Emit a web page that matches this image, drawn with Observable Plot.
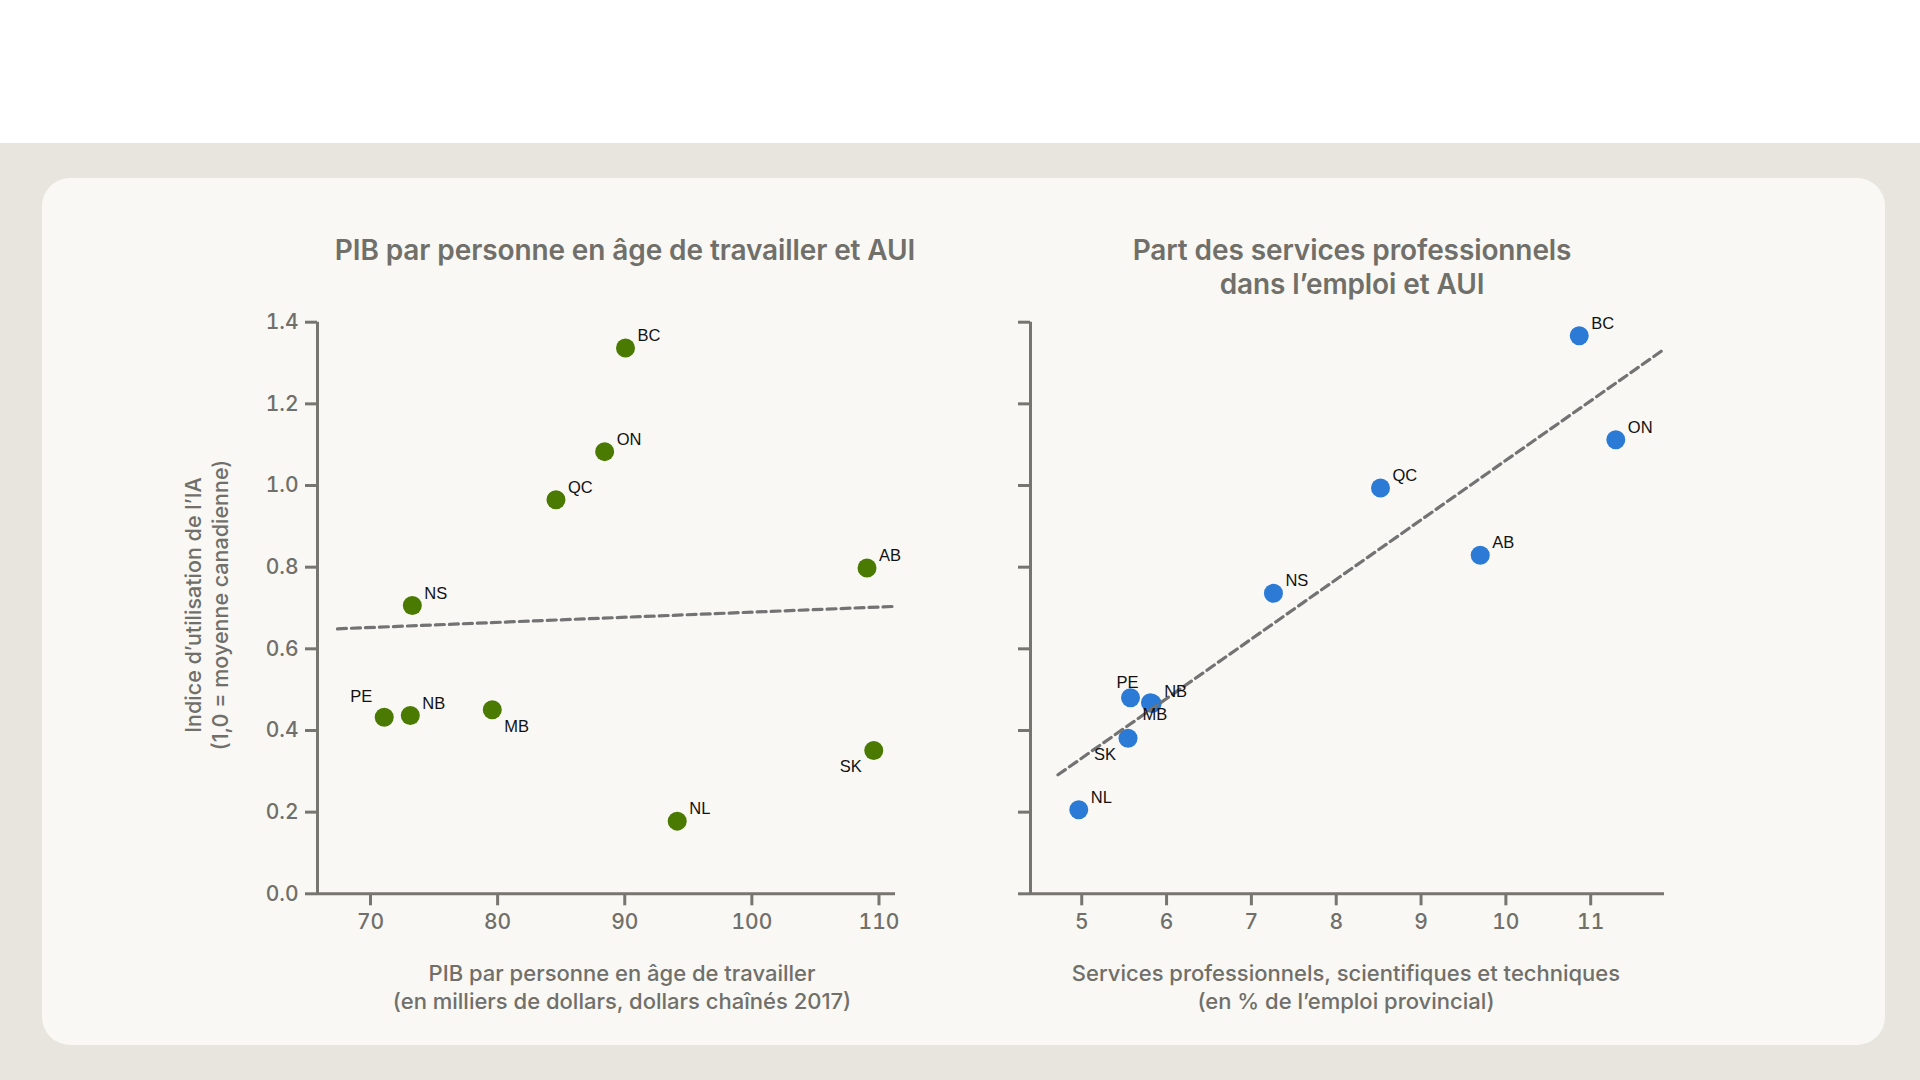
<!DOCTYPE html>
<html lang="fr">
<head>
<meta charset="utf-8">
<script src="https://cdn.jsdelivr.net/npm/d3@7"></script>
<script src="https://cdn.jsdelivr.net/npm/@observablehq/plot@0.6"></script>
<style>
  html, body { margin: 0; padding: 0; }
  body { width: 1920px; height: 1080px; position: relative; overflow: hidden; background: #ffffff; font-family: Inter, "Noto Sans", sans-serif; }
  #band { position: absolute; left: 0; top: 143px; width: 1920px; height: 937px; background: #e8e5de; }
  #card { position: absolute; left: 42px; top: 178px; width: 1843px; height: 867px; background: #f9f8f4; border-radius: 28px; }
  .txt { position: absolute; color: #706f6a; text-align: center; white-space: nowrap; transform: translateX(-50%); }
  .title { font-size: 28px; font-weight: 600; line-height: 34px; top: 233px; letter-spacing: -0.1px; }
  .xlabel { font-size: 22px; font-weight: 500; line-height: 28.7px; top: 958.6px; letter-spacing: 0; }
  .ylabel { position: absolute; color: #706f6a; text-align: center; white-space: nowrap; font-size: 21.5px; font-weight: 500; line-height: 27px; left: 207px; top: 605px; transform: translate(-50%, -50%) rotate(-90deg); }
  .plot { position: absolute; top: 0; }
</style>
</head>
<body>
<div id="band"></div>
<div id="card"></div>
<div class="txt title" style="left:625px">PIB par personne en âge de travailler et AUI</div>
<div class="txt title" style="left:1352px">Part des services professionnels<br>dans l’emploi et AUI</div>
<div class="ylabel">Indice d’utilisation de l’IA<br>(1,0 = moyenne canadienne)</div>
<div class="txt xlabel" style="left:622px">PIB par personne en âge de travailler<br>(en milliers de dollars, dollars chaînés 2017)</div>
<div class="txt xlabel" style="left:1346px">Services professionnels, scientifiques et techniques<br>(en % de l’emploi provincial)</div>
<div id="left" class="plot" style="left:0px"></div>
<div id="right" class="plot" style="left:960px"></div>
<script>
// ---- data ----
const provinces = ["BC", "ON", "QC", "AB", "NS", "PE", "NB", "MB", "SK", "NL"];
const gdpPerWorker = [90.06, 88.42, 84.59, 109.06, 73.29, 71.08, 73.13, 79.58, 109.59, 94.13];
const aiIndexGdp = [1.337, 1.083, 0.965, 0.798, 0.706, 0.4325, 0.4367, 0.4506, 0.351, 0.178];
const proServicesShare = [10.865, 11.296, 8.522, 9.698, 7.26, 5.81, 5.83, 5.575, 5.546, 4.965];
const aiIndexPro = [1.367, 1.112, 0.994, 0.829, 0.736, 0.468, 0.466, 0.48, 0.381, 0.206];
const labelSide = ["ne", "ne", "ne", "ne", "ne", "nw", "ne", "se", "sw", "ne"];

const gdpTicks = [70, 80, 90, 100, 110];
const proTicks = [5, 6, 7, 8, 9, 10, 11];
const aiTicks = [0, 0.2, 0.4, 0.6, 0.8, 1.0, 1.2, 1.4];

const gdpDomain = [65.83, 111.3];
const proDomain = [4.396, 11.87];
const aiDomain = [0, 1.4];

const gdpTrendX = [67.4, 111.3];
const gdpTrendY = [0.649, 0.704];
const proTrendX = [4.72, 11.874];
const proTrendY = [0.2915, 1.335];

// ---- styling ----
const axisColor = "#77756f";
const textGray = "#706f6a";
const green = "#4b7a02";
const blue = "#2b7ad6";
const sides = {
  ne: {textAnchor: "start", dx: 12, dy: -7},
  nw: {textAnchor: "end", dx: -12, dy: -15},
  se: {textAnchor: "start", dx: 12, dy: 22},
  sw: {textAnchor: "end", dx: -12, dy: 22}
};

function scatter(xs, ys, tx, ty, xDomain, xTicks, color, showYLabels, ml, mr) {
  const rows = provinces.map((p, i) => ({p, x: xs[i], y: ys[i], side: labelSide[i]}));
  const trend = tx.map((x, i) => ({x, y: ty[i]}));
  const labelMarks = Object.entries(sides).map(([k, s]) =>
    Plot.text(rows.filter(d => d.side === k), {
      x: "x", y: "y", text: "p", textAnchor: s.textAnchor, dx: s.dx, dy: s.dy,
      lineAnchor: "bottom", fill: "#111", fontSize: 16.5, fontFamily: "Liberation Sans, Arial, sans-serif"
    })
  );
  return Plot.plot({
    width: 960,
    height: 1080,
    marginLeft: ml,
    marginRight: mr,
    marginTop: 321.7,
    marginBottom: 186.7,
    style: {background: "transparent", fontFamily: "Inter, sans-serif", overflow: "visible"},
    x: {domain: xDomain},
    y: {domain: aiDomain},
    marks: [
      Plot.axisY({
        ticks: aiTicks, tickSize: 12, tickPadding: 7, strokeWidth: 3, stroke: axisColor,
        tickFormat: showYLabels ? d3.format(".1f") : () => "",
        fill: textGray, fontSize: 21, fontWeight: 500, label: null
      }),
      Plot.axisX({
        ticks: xTicks, tickSize: 12, tickPadding: 8, strokeWidth: 3, stroke: axisColor,
        tickFormat: d3.format("d"), fill: textGray, fontSize: 21, fontWeight: 500, label: null
      }),
      Plot.ruleX([xDomain[0]], {y1: aiDomain[0], y2: aiDomain[1], stroke: axisColor, strokeWidth: 3}),
      Plot.ruleY([aiDomain[0]], {x1: xDomain[0], x2: xDomain[1], stroke: axisColor, strokeWidth: 3}),
      Plot.dot(rows, {x: "x", y: "y", r: 9.5, fill: color}),
      Plot.line(trend, {x: "x", y: "y", stroke: "#737373", strokeWidth: 3.2, strokeDasharray: "9,5"}),
      ...labelMarks
    ]
  });
}

document.getElementById("left").append(
  scatter(gdpPerWorker, aiIndexGdp, gdpTrendX, gdpTrendY, gdpDomain, gdpTicks, green, true, 317, 65)
);
document.getElementById("right").append(
  scatter(proServicesShare, aiIndexPro, proTrendX, proTrendY, proDomain, proTicks, blue, false, 70, 256)
);
</script>
</body>
</html>
